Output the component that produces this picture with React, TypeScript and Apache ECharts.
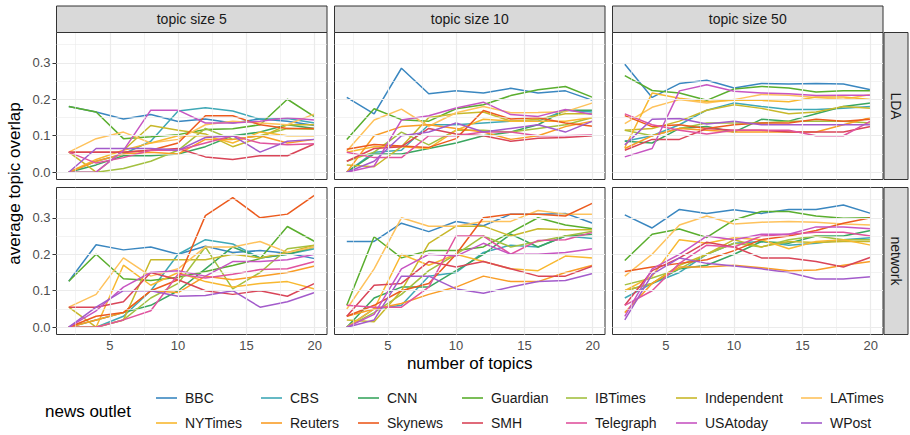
import React, { useEffect, useRef } from "react";
import * as echarts from "echarts";

const topicCounts = [2, 4, 6, 8, 10, 12, 14, 16, 18, 20];
const outlets = ["BBC", "CBS", "CNN", "Guardian", "IBTimes", "Independent", "LATimes", "NYTimes", "Reuters", "Skynews", "SMH", "Telegraph", "USAtoday", "WPost"];
const outletColors = ["#3A87C0", "#3FA8B6", "#3AA660", "#5AAE2E", "#A3C040", "#C8B82A", "#FEC25C", "#F8B830", "#F99D26", "#EC5B1E", "#D94558", "#E0539E", "#C755C2", "#A35BCB"];
const topicSizes = ["topic size 5", "topic size 10", "topic size 50"];
const methods = ["LDA", "network"];
const yTicks = [0, 0.1, 0.2, 0.3];
const xTicks = [5, 10, 15, 20];
const yMinor = [0.05, 0.15, 0.25, 0.35];
const xMinor = [2.5, 7.5, 12.5, 17.5];

// rows in outlet order
const ldaSize5 = [
  [0.18, 0.165, 0.146, 0.158, 0.139, 0.146, 0.135, 0.146, 0.14, 0.128],
  [0.0, 0.03, 0.05, 0.085, 0.168, 0.177, 0.168, 0.145, 0.147, 0.135],
  [0.0, 0.02, 0.045, 0.045, 0.05, 0.07, 0.1, 0.11, 0.13, 0.12],
  [0.18, 0.165, 0.092, 0.097, 0.103, 0.117, 0.119, 0.13, 0.2, 0.152],
  [0.0, 0.0, 0.01, 0.03, 0.06, 0.12, 0.09, 0.1, 0.12, 0.118],
  [0.055, 0.0, 0.06, 0.128, 0.115, 0.105, 0.07, 0.095, 0.13, 0.13],
  [0.055, 0.092, 0.11, 0.08, 0.09, 0.13, 0.14, 0.135, 0.13, 0.16],
  [0.0, 0.035, 0.06, 0.08, 0.1, 0.1, 0.08, 0.11, 0.1, 0.1],
  [0.0, 0.03, 0.05, 0.055, 0.05, 0.09, 0.09, 0.1, 0.08, 0.09],
  [0.055, 0.055, 0.055, 0.06, 0.08, 0.155, 0.155, 0.13, 0.12, 0.12],
  [0.055, 0.055, 0.055, 0.06, 0.065, 0.042, 0.035, 0.045, 0.045, 0.078],
  [0.055, 0.025, 0.04, 0.06, 0.06, 0.08, 0.1, 0.08, 0.075, 0.078],
  [0.0, 0.0, 0.06, 0.17, 0.17, 0.135, 0.135, 0.14, 0.149, 0.143],
  [0.0, 0.065, 0.065, 0.065, 0.06, 0.095, 0.1, 0.055, 0.085, 0.09],
];

const ldaSize10 = [
  [0.205, 0.16, 0.285, 0.215, 0.223, 0.217, 0.23, 0.217, 0.223, 0.197],
  [0.0, 0.055, 0.06, 0.13, 0.13, 0.135, 0.14, 0.14, 0.17, 0.165],
  [0.0, 0.05, 0.05, 0.065, 0.08, 0.1, 0.11, 0.13, 0.17, 0.17],
  [0.09, 0.174, 0.144, 0.14, 0.174, 0.185, 0.21, 0.226, 0.235, 0.205],
  [0.03, 0.055, 0.11, 0.075, 0.115, 0.115, 0.11, 0.12, 0.13, 0.15],
  [0.02, 0.015, 0.07, 0.15, 0.16, 0.165, 0.14, 0.145, 0.16, 0.16],
  [0.058, 0.143, 0.173, 0.126, 0.163, 0.18, 0.163, 0.164, 0.166, 0.19],
  [0.055, 0.07, 0.07, 0.065, 0.115, 0.145, 0.14, 0.14, 0.14, 0.15],
  [0.0, 0.1, 0.125, 0.13, 0.12, 0.11, 0.09, 0.1, 0.125, 0.14],
  [0.063, 0.076, 0.072, 0.068, 0.092, 0.169, 0.146, 0.149, 0.135, 0.126],
  [0.03, 0.065, 0.07, 0.12, 0.105, 0.1, 0.085, 0.093, 0.095, 0.1],
  [0.055, 0.04, 0.04, 0.1, 0.1, 0.11, 0.11, 0.1, 0.1, 0.102],
  [0.0, 0.017, 0.143, 0.155, 0.176, 0.192, 0.158, 0.153, 0.172, 0.158],
  [0.0, 0.03, 0.1, 0.11, 0.135, 0.11, 0.12, 0.13, 0.11, 0.14],
];

const ldaSize50 = [
  [0.296, 0.205, 0.243, 0.252, 0.231, 0.243, 0.242, 0.243, 0.242, 0.226],
  [0.085, 0.1, 0.13, 0.17, 0.19, 0.18, 0.172, 0.172, 0.175, 0.18],
  [0.085, 0.08, 0.12, 0.125, 0.11, 0.145, 0.14, 0.16, 0.18, 0.19],
  [0.265, 0.224, 0.217, 0.197, 0.228, 0.235, 0.231, 0.22, 0.223, 0.223],
  [0.115, 0.1, 0.12, 0.135, 0.135, 0.135, 0.14, 0.14, 0.14, 0.135],
  [0.115, 0.12, 0.14, 0.17, 0.185, 0.175, 0.16, 0.165, 0.18, 0.175],
  [0.133, 0.178, 0.199, 0.19, 0.199, 0.213, 0.211, 0.205, 0.2, 0.213],
  [0.067, 0.217, 0.203, 0.194, 0.197, 0.197, 0.193, 0.206, 0.206, 0.199],
  [0.065, 0.1, 0.12, 0.115, 0.11, 0.11, 0.11, 0.11, 0.13, 0.15],
  [0.155, 0.125, 0.13, 0.12, 0.13, 0.135, 0.135, 0.145, 0.14, 0.145],
  [0.06, 0.09, 0.09, 0.12, 0.115, 0.115, 0.11, 0.11, 0.11, 0.125],
  [0.16, 0.13, 0.115, 0.105, 0.115, 0.115, 0.115, 0.1, 0.1, 0.14],
  [0.042, 0.065, 0.223, 0.24, 0.222, 0.217, 0.215, 0.21, 0.211, 0.211],
  [0.075, 0.145, 0.147, 0.132, 0.14, 0.13, 0.13, 0.13, 0.13, 0.13],
];

const networkSize5 = [
  [0.126, 0.226, 0.212, 0.22, 0.2, 0.222, 0.205, 0.21, 0.203, 0.188],
  [0.0, 0.0, 0.03, 0.1, 0.2, 0.24, 0.228, 0.19, 0.2, 0.215],
  [0.0, 0.02, 0.04, 0.06, 0.1, 0.16, 0.22, 0.19, 0.2, 0.22],
  [0.126, 0.2, 0.133, 0.128, 0.137, 0.153, 0.169, 0.188, 0.276, 0.235],
  [0.0, 0.0, 0.02, 0.08, 0.12, 0.22, 0.105, 0.15, 0.215, 0.225],
  [0.055, 0.0, 0.02, 0.185, 0.185, 0.185, 0.2, 0.19, 0.205, 0.225],
  [0.055, 0.09, 0.19, 0.14, 0.16, 0.22, 0.22, 0.235, 0.205, 0.22],
  [0.0, 0.0, 0.17, 0.115, 0.15, 0.125, 0.11, 0.12, 0.125, 0.105],
  [0.0, 0.02, 0.04, 0.1, 0.095, 0.14, 0.13, 0.14, 0.15, 0.168],
  [0.0, 0.03, 0.04, 0.1, 0.13, 0.306, 0.355, 0.3, 0.31, 0.362],
  [0.055, 0.055, 0.07, 0.15, 0.13, 0.1, 0.09, 0.1, 0.085, 0.12],
  [0.0, 0.0, 0.02, 0.045, 0.145, 0.135, 0.145, 0.158, 0.16, 0.18],
  [0.0, 0.045, 0.11, 0.15, 0.155, 0.14, 0.18, 0.18, 0.185, 0.2],
  [0.0, 0.055, 0.1, 0.1, 0.085, 0.087, 0.1, 0.055, 0.07, 0.095],
];

const networkSize10 = [
  [0.235, 0.235, 0.285, 0.262, 0.29, 0.278, 0.31, 0.31, 0.312, 0.285],
  [0.0, 0.05, 0.06, 0.14, 0.15, 0.205, 0.225, 0.22, 0.25, 0.243],
  [0.0, 0.08, 0.11, 0.11, 0.155, 0.2, 0.255, 0.22, 0.25, 0.255],
  [0.06, 0.248, 0.19, 0.21, 0.21, 0.22, 0.26, 0.3, 0.28, 0.27],
  [0.0, 0.04, 0.09, 0.155, 0.2, 0.25, 0.22, 0.235, 0.25, 0.263],
  [0.02, 0.015, 0.1, 0.23, 0.277, 0.277, 0.25, 0.27, 0.267, 0.267],
  [0.05, 0.16, 0.3, 0.277, 0.277, 0.29, 0.29, 0.32, 0.31, 0.31],
  [0.0, 0.05, 0.2, 0.17, 0.2, 0.18, 0.16, 0.155, 0.195, 0.19],
  [0.03, 0.05, 0.065, 0.09, 0.11, 0.14, 0.125, 0.125, 0.15, 0.17],
  [0.03, 0.06, 0.1, 0.12, 0.2, 0.3, 0.31, 0.31, 0.305, 0.34],
  [0.03, 0.115, 0.12, 0.18, 0.165, 0.18, 0.16, 0.14, 0.14, 0.168],
  [0.06, 0.055, 0.055, 0.11, 0.25, 0.25, 0.2, 0.238, 0.24, 0.26],
  [0.0, 0.035, 0.16, 0.2, 0.195, 0.23, 0.2, 0.2, 0.205, 0.215],
  [0.0, 0.02, 0.14, 0.14, 0.105, 0.093, 0.11, 0.125, 0.128, 0.147],
];

const networkSize50 = [
  [0.308, 0.272, 0.323, 0.312, 0.322, 0.312, 0.323, 0.323, 0.335, 0.312],
  [0.08, 0.12, 0.15, 0.2, 0.23, 0.235, 0.225, 0.23, 0.24, 0.245],
  [0.1, 0.12, 0.16, 0.17, 0.2, 0.235, 0.23, 0.25, 0.25, 0.265],
  [0.183, 0.255, 0.269, 0.246, 0.294, 0.317, 0.317, 0.305, 0.299, 0.3],
  [0.116, 0.135, 0.16, 0.2, 0.23, 0.22, 0.24, 0.25, 0.24, 0.24],
  [0.1, 0.12, 0.17, 0.2, 0.24, 0.22, 0.235, 0.232, 0.235, 0.235],
  [0.14, 0.2, 0.28, 0.305, 0.283, 0.288, 0.29, 0.288, 0.283, 0.28],
  [0.1, 0.14, 0.24, 0.23, 0.245, 0.24, 0.215, 0.235, 0.24, 0.225],
  [0.04, 0.12, 0.165, 0.165, 0.17, 0.163, 0.155, 0.157, 0.17, 0.18],
  [0.153, 0.165, 0.175, 0.185, 0.21, 0.24, 0.25, 0.265, 0.285, 0.3],
  [0.06, 0.155, 0.19, 0.233, 0.22, 0.19, 0.19, 0.18, 0.165, 0.192],
  [0.06, 0.1, 0.175, 0.225, 0.22, 0.25, 0.255, 0.26, 0.26, 0.25],
  [0.03, 0.16, 0.2, 0.25, 0.24, 0.255, 0.255, 0.275, 0.275, 0.27],
  [0.02, 0.145, 0.19, 0.175, 0.168, 0.16, 0.15, 0.132, 0.132, 0.138],
];

const panels = [ldaSize5, ldaSize10, ldaSize50, networkSize5, networkSize10, networkSize50];

const FONT = "Liberation Sans, Arial, Helvetica, sans-serif";
const colLeft = [56.5, 334.5, 612.5];
const rowTop = [32.5, 187.5];
const PW = 270.5;
const PH = 147;
const STRIP_TOP = 6;
const legendColX = [156, 261, 358, 462, 566, 676, 801];
const legendRowY = [399, 424];

export default function App() {
  const ref = useRef<HTMLDivElement>(null);
  useEffect(() => {
    if (!ref.current) return;
    const chart = echarts.init(ref.current, null, { renderer: "svg" });

    const grids: any[] = [];
    const xAxes: any[] = [];
    const yAxes: any[] = [];
    const series: any[] = [];

    for (let p = 0; p < 6; p++) {
      const r = Math.floor(p / 3);
      const c = p % 3;
      grids.push({
        left: colLeft[c], top: rowTop[r], width: PW, height: PH,
        show: true, borderColor: "#333333", borderWidth: 1, backgroundColor: "#ffffff",
      });
      const showX = r === 1;
      const showY = c === 0;
      xAxes.push({
        type: "value", gridIndex: p, min: 1.1, max: 20.9,
        axisLine: { show: false },
        splitLine: { show: false },
        axisTick: { show: showX, length: 4, customValues: xTicks, lineStyle: { color: "#333333", width: 1 } },
        axisLabel: { show: showX, customValues: xTicks, margin: 4, color: "#4d4d4d", fontSize: 13, fontFamily: FONT, formatter: (v: number) => String(v) },
      });
      yAxes.push({
        type: "value", gridIndex: p, min: -0.02, max: 0.383,
        axisLine: { show: false },
        splitLine: { show: false },
        axisTick: { show: showY, length: 4, customValues: yTicks, lineStyle: { color: "#333333", width: 1 } },
        axisLabel: { show: showY, customValues: yTicks, margin: 6, color: "#4d4d4d", fontSize: 13, fontFamily: FONT, formatter: (v: number) => v.toFixed(1) },
      });
      const gridData: any[] = [];
      xMinor.forEach((v) => gridData.push({ xAxis: v, lineStyle: { color: "#ebebeb", width: 0.6, type: "solid" } }));
      yMinor.forEach((v) => gridData.push({ yAxis: v, lineStyle: { color: "#ebebeb", width: 0.6, type: "solid" } }));
      xTicks.forEach((v) => gridData.push({ xAxis: v, lineStyle: { color: "#ebebeb", width: 1.2, type: "solid" } }));
      yTicks.forEach((v) => gridData.push({ yAxis: v, lineStyle: { color: "#ebebeb", width: 1.2, type: "solid" } }));
      series.push({
        type: "line", xAxisIndex: p, yAxisIndex: p, data: [], z: 1, silent: true,
        markLine: { silent: true, symbol: ["none", "none"], label: { show: false }, animation: false, data: gridData },
      });
      const vals = panels[p];
      outlets.forEach((name, k) => {
        series.push({
          type: "line", name, xAxisIndex: p, yAxisIndex: p, z: 2,
          data: topicCounts.map((x, j) => [x, vals[k][j]]),
          showSymbol: false, symbol: "none",
          color: outletColors[k],
          lineStyle: { width: 1.5, color: outletColors[k] },
          emphasis: { disabled: true },
        });
      });
    }

    const legends = outlets.map((name, i) => ({
      data: [name],
      left: legendColX[i % 7],
      top: legendRowY[Math.floor(i / 7)] - 8,
      padding: 0,
      icon: "rect",
      itemWidth: 21,
      itemHeight: 1.6,
      itemGap: 0,
      selectedMode: false,
      textStyle: { fontSize: 14, color: "#1a1a1a", fontFamily: FONT, padding: [0, 0, 0, 3] },
    }));

    const graphic: any[] = [];
    for (let c = 0; c < 3; c++) {
      graphic.push({
        type: "rect", shape: { x: colLeft[c], y: STRIP_TOP, width: PW, height: rowTop[0] - STRIP_TOP },
        style: { fill: "#d9d9d9", stroke: "#333333", lineWidth: 1 }, z: 10,
      });
      graphic.push({
        type: "text", x: colLeft[c] + PW / 2, y: (STRIP_TOP + rowTop[0]) / 2, z: 11,
        style: { text: topicSizes[c], fill: "#1a1a1a", font: `14px ${FONT}`, align: "center", verticalAlign: "middle" },
      });
    }
    for (let r = 0; r < 2; r++) {
      graphic.push({
        type: "rect", shape: { x: 884, y: rowTop[r], width: 24, height: PH },
        style: { fill: "#d9d9d9", stroke: "#333333", lineWidth: 1 }, z: 10,
      });
      graphic.push({
        type: "text", x: 896, y: rowTop[r] + PH / 2, rotation: -Math.PI / 2, z: 11,
        style: { text: methods[r], fill: "#1a1a1a", font: `14px ${FONT}`, align: "center", verticalAlign: "middle" },
      });
    }
    graphic.push({
      type: "text", x: 14, y: (rowTop[0] + rowTop[1] + PH) / 2, rotation: Math.PI / 2,
      style: { text: "average topic overlap", fill: "#000000", font: `17px ${FONT}`, align: "center", verticalAlign: "middle" },
    });
    graphic.push({
      type: "text", x: (colLeft[0] + colLeft[2] + PW) / 2, y: 363,
      style: { text: "number of topics", fill: "#000000", font: `17px ${FONT}`, align: "center", verticalAlign: "middle" },
    });
    graphic.push({
      type: "text", x: 45, y: 411,
      style: { text: "news outlet", fill: "#000000", font: `17px ${FONT}`, align: "left", verticalAlign: "middle" },
    });

    chart.setOption({
      animation: false,
      backgroundColor: "#ffffff",
      grid: grids,
      xAxis: xAxes,
      yAxis: yAxes,
      series,
      legend: legends,
      graphic,
    });
    return () => chart.dispose();
  }, []);
  return <div ref={ref} style={{ width: 910, height: 435, position: "absolute", left: 0, top: 0 }} />;
}
